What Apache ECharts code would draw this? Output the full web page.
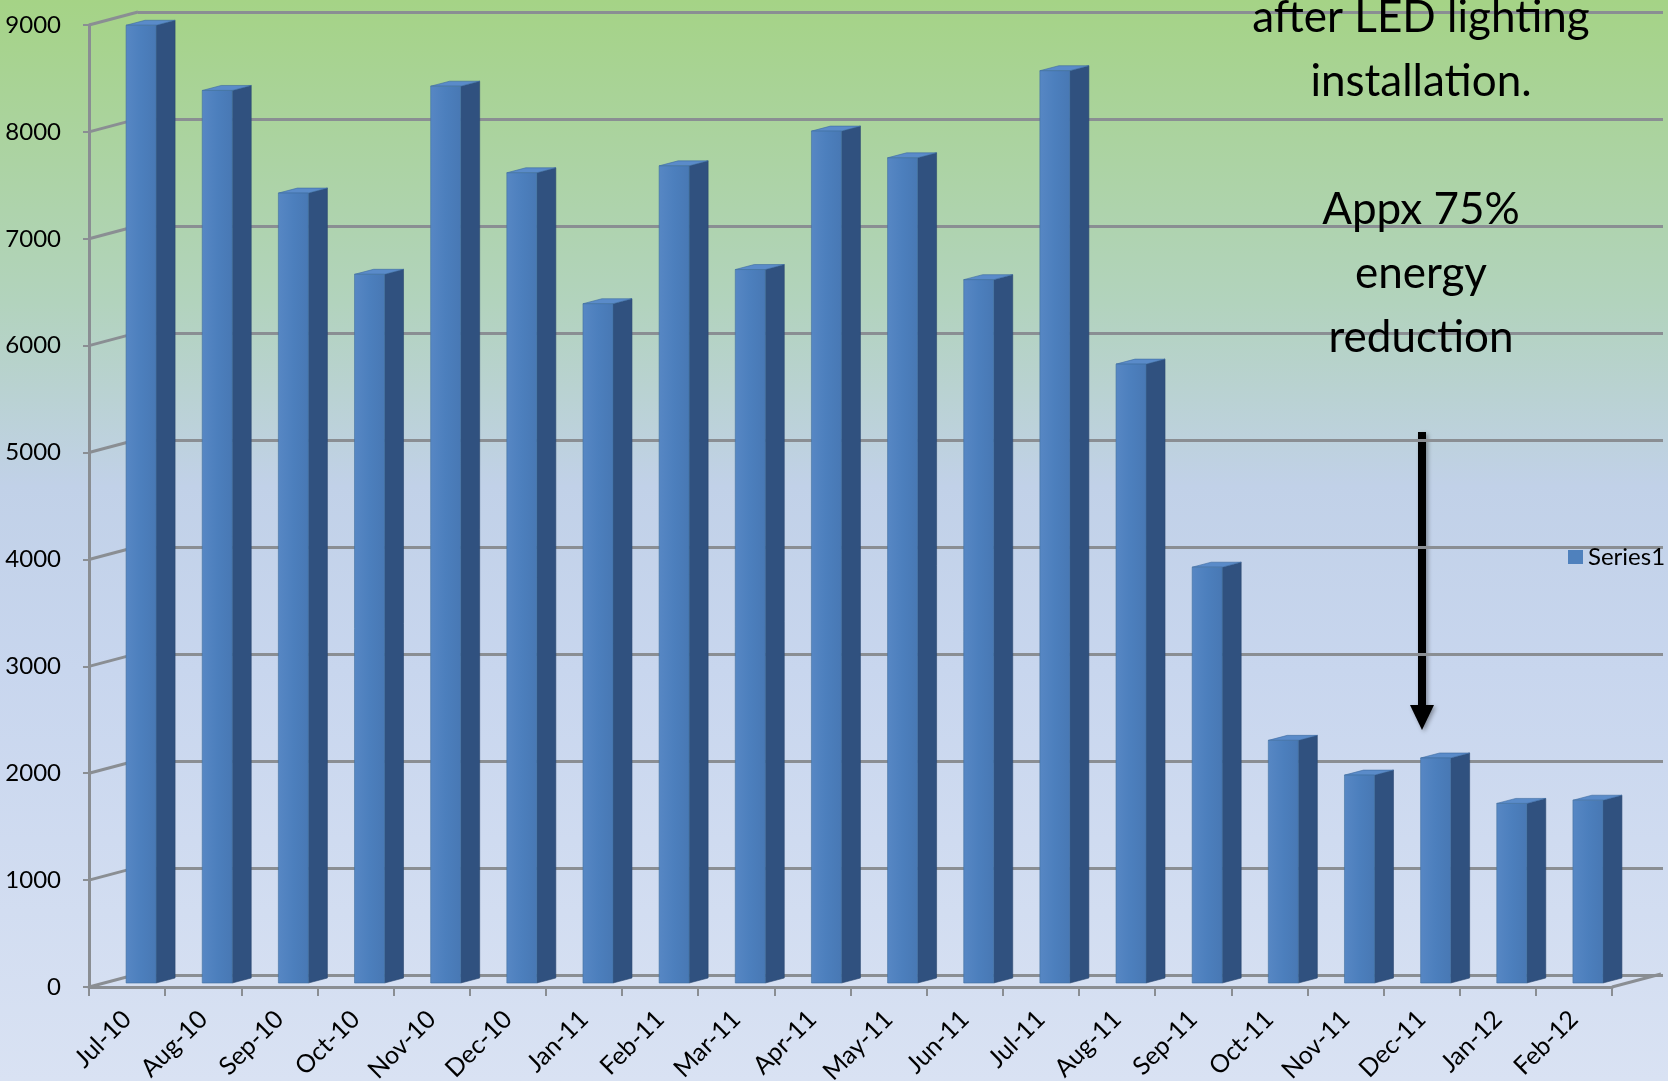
<!DOCTYPE html>
<html>
<head>
<meta charset="utf-8">
<title>Energy use before and after LED lighting</title>
<script src="https://cdn.jsdelivr.net/npm/echarts@6/dist/echarts.min.js"></script>
<style>
  html, body { margin: 0; padding: 0; }
  #chart { width: 1668px; height: 1081px; }
</style>
</head>
<body>
<div id="chart"></div>
<script>
  // months on the x axis
  var months = ['Jul-10', 'Aug-10', 'Sep-10', 'Oct-10', 'Nov-10', 'Dec-10', 'Jan-11', 'Feb-11', 'Mar-11', 'Apr-11',
    'May-11', 'Jun-11', 'Jul-11', 'Aug-11', 'Sep-11', 'Oct-11', 'Nov-11', 'Dec-11', 'Jan-12', 'Feb-12'];
  // Series1 values
  var series1 = [8960, 8350, 7390, 6630, 8390, 7580, 6355, 7645, 6675, 7970,
    7720, 6580, 8535, 5790, 3890, 2270, 1945, 2105, 1680, 1710];
  // y axis ticks
  var yTicks = [0, 1000, 2000, 3000, 4000, 5000, 6000, 7000, 8000, 9000];
  var noteLines = ['after LED lighting', 'installation.', '', 'Appx 75%', 'energy', 'reduction'];

  var font = 'Lato, "Open Sans", sans-serif';
  var gridColor = '#8a8e93';

  // wall depth offset (front axis -> back wall) and bar depth
  var wallDx = 49, wallDy = -13;
  var barDx = 19, barDy = -5;

  var chart = echarts.init(document.getElementById('chart'));

  function renderBar(params, api) {
    var idx = api.value(0);
    var base = api.coord([idx, 0]);
    var top = api.coord([idx, api.value(1)]);
    var x0 = base[0] - 1, w = 30, shift = -4;
    var yb = base[1] + shift, yt = top[1] + shift;
    return {
      type: 'group',
      children: [
        {
          type: 'polygon',
          shape: {points: [[x0 + w, yb], [x0 + w + barDx, yb + barDy], [x0 + w + barDx, yt + barDy], [x0 + w, yt]]},
          style: {fill: '#30517f', stroke: '#2a476f', lineWidth: 0.6}
        },
        {
          type: 'polygon',
          shape: {points: [[x0, yt], [x0 + w, yt], [x0 + w + barDx, yt + barDy], [x0 + barDx, yt + barDy]]},
          style: {fill: '#5a8bc9', stroke: '#3d6aa0', lineWidth: 0.6}
        },
        {
          type: 'rect',
          shape: {x: x0, y: yt, width: w, height: yb - yt},
          style: {
            fill: new echarts.graphic.LinearGradient(0, 0, 1, 0, [
              {offset: 0, color: '#5787c4'},
              {offset: 0.5, color: '#4c7fbd'},
              {offset: 1, color: '#4878b4'}
            ]),
            stroke: '#41709f', lineWidth: 0.6
          }
        }
      ]
    };
  }

  // oblique lines joining front axis ticks to the back wall
  function renderConnector(params, api) {
    var cs = params.coordSys;
    var p = api.coord([0, api.value(0)]);
    return {
      type: 'line',
      shape: {x1: cs.x, y1: p[1], x2: cs.x + wallDx, y2: p[1] + wallDy},
      style: {stroke: gridColor, lineWidth: 3}
    };
  }

  // floor edge on the right side
  function renderFloor(params, api) {
    var cs = params.coordSys;
    var y = api.coord([0, 0])[1];
    return {
      type: 'line',
      shape: {x1: cs.x + cs.width, y1: y, x2: cs.x + cs.width + wallDx, y2: y + wallDy},
      style: {stroke: gridColor, lineWidth: 3}
    };
  }

  var option = {
    backgroundColor: new echarts.graphic.LinearGradient(0, 0, 0, 1, [
      {offset: 0, color: '#a5d386'},
      {offset: 0.28, color: '#b2d3bd'},
      {offset: 0.45, color: '#c1d1e8'},
      {offset: 0.62, color: '#c8d6ee'},
      {offset: 1, color: '#d9e2f3'}
    ]),
    animation: false,
    textStyle: {fontFamily: font},
    legend: {
      data: [{name: 'Series1', icon: 'rect', itemStyle: {color: '#4f81bd'}}],
      left: 1563,
      top: 540,
      itemWidth: 15,
      itemHeight: 14,
      itemGap: 6,
      textStyle: {fontSize: 24, color: '#000', fontFamily: font}
    },
    grid: [
      {left: 89, right: 56, top: 25, bottom: 94, outerBoundsMode: 'none'},
      {left: 138, right: 5, top: 12, bottom: 106, outerBoundsMode: 'none'}
    ],
    xAxis: [
      {
        type: 'category',
        gridIndex: 0,
        data: months,
        axisLine: {lineStyle: {color: gridColor, width: 3}},
        axisTick: {show: true, length: 9, lineStyle: {color: gridColor, width: 2}},
        axisLabel: {rotate: 45, fontSize: 25, color: '#000', margin: 28, fontFamily: font}
      },
      {
        type: 'category',
        gridIndex: 1,
        data: months,
        show: false
      }
    ],
    yAxis: [
      {
        type: 'value',
        gridIndex: 0,
        min: 0,
        max: 9000,
        interval: 1000,
        axisLine: {show: true, lineStyle: {color: gridColor, width: 3}},
        axisTick: {show: true, length: 6, lineStyle: {color: gridColor, width: 2}},
        axisLabel: {fontSize: 24, color: '#000', margin: 28, fontFamily: font, formatter: function (v) { return String(v); }},
        splitLine: {show: false}
      },
      {
        type: 'value',
        gridIndex: 1,
        min: 0,
        max: 9000,
        interval: 1000,
        axisLine: {show: false},
        axisTick: {show: false},
        axisLabel: {show: false},
        splitLine: {show: true, showMinLine: true, showMaxLine: true, lineStyle: {color: gridColor, width: 3}}
      }
    ],
    series: [
      {
        type: 'custom',
        name: 'walls',
        xAxisIndex: 0,
        yAxisIndex: 0,
        renderItem: renderConnector,
        data: yTicks.map(function (v) { return [v]; }),
        encode: {y: 0},
        silent: true,
        z: 1
      },
      {
        type: 'custom',
        name: 'floor',
        xAxisIndex: 0,
        yAxisIndex: 0,
        renderItem: renderFloor,
        data: [[0]],
        silent: true,
        z: 1
      },
      {
        type: 'custom',
        name: 'Series1',
        xAxisIndex: 0,
        yAxisIndex: 0,
        renderItem: renderBar,
        data: series1.map(function (v, i) { return [i, v]; }),
        encode: {x: 0, y: 1},
        itemStyle: {color: '#4f81bd'},
        z: 3
      }
    ],
    graphic: [
      {
        type: 'text',
        x: 1421,
        y: -14,
        z: 10,
        style: {
          text: noteLines.join('\n'),
          align: 'center',
          verticalAlign: 'top',
          fontSize: 44,
          lineHeight: 64,
          fontFamily: font,
          fill: '#000'
        }
      },
      {
        type: 'group',
        z: 10,
        children: [
          {
            type: 'line',
            shape: {x1: 1422, y1: 432, x2: 1422, y2: 708},
            style: {stroke: '#000', lineWidth: 8, shadowBlur: 4, shadowColor: 'rgba(0,0,0,0.35)', shadowOffsetX: 2, shadowOffsetY: 2}
          },
          {
            type: 'polygon',
            shape: {points: [[1410, 705], [1434, 705], [1422, 730]]},
            style: {fill: '#000', shadowBlur: 4, shadowColor: 'rgba(0,0,0,0.35)', shadowOffsetX: 2, shadowOffsetY: 2}
          }
        ]
      }
    ]
  };

  chart.setOption(option);
</script>
</body>
</html>
